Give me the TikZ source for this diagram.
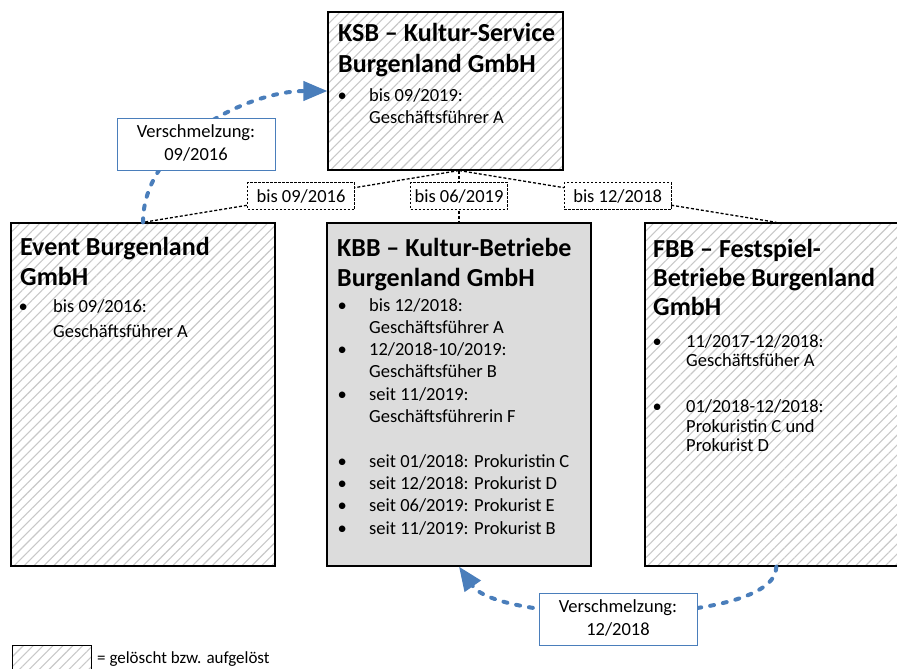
\documentclass[tikz,border=0pt]{standalone}
\usepackage{fontspec}
\setmainfont{Carlito}
\usetikzlibrary{patterns.meta,arrows.meta,calc}
\definecolor{mblue}{RGB}{74,126,187}
\definecolor{kbbgray}{RGB}{220,220,220}
\definecolor{hatchgray}{RGB}{200,200,200}
\newcommand\bl[1]{\llap{\makebox[0pt]{\textbullet}\hspace{#1}}}
\tikzset{
 orgbox/.style={draw=black, line width=1.3pt, minimum width=264pt, minimum height=343pt, inner sep=0pt},
 hatched/.style={pattern={Lines[angle=45,distance=7pt,line width=1.1pt]}, pattern color=hatchgray},
 ttl/.style={anchor=base west, inner sep=0pt},
 lst/.style={anchor=base west, inner sep=0pt},
 orgline/.style={line width=1.3pt, dash pattern=on 3pt off 2pt},
 datebox/.style={draw=black, line width=1pt, dash pattern=on 2.5pt off 1.5pt, fill=white, minimum height=27pt, inner sep=0pt, font=\fontsize{18.5}{22}\selectfont},
 mergebox/.style={draw=mblue, line width=1pt, fill=white, minimum width=158pt, minimum height=52pt, inner sep=0pt, font=\fontsize{18.5}{23}\selectfont},
 merge/.style={draw=mblue, line width=4pt, dash pattern=on 4pt off 9pt, line cap=round, -{Triangle[length=24pt,width=19pt]}},
}
\begin{document}
\begin{tikzpicture}[x=1pt,y=-1pt]
\useasboundingbox (0,0) rectangle (897,669);
\begin{scope}
\clip (0,0) rectangle (897,669);
% boxes
\node[orgbox, hatched, minimum width=235pt, minimum height=158pt] (ksb) at (445.5,91) {};
\node[orgbox, hatched] (ev) at (143,394.5) {};
\node[orgbox, fill=kbbgray] (kbb) at (459,394.5) {};
\node[orgbox, hatched, minimum width=344pt] (fbb) at (817,394.5) {};
\coordinate (fbbtop) at ($(fbb.north west)+(132,0)$);
\coordinate (fbbbot) at ($(fbb.south west)+(132,0)$);
% titles
\node[ttl, font=\bfseries\fontsize{26}{31}\selectfont] (ksbT) at (338,42) {\begin{tabular}[t]{@{}l@{}}KSB – Kultur-Service\\Burgenland GmbH\end{tabular}};
\node[ttl, font=\bfseries\fontsize{26}{30}\selectfont] (evT) at (20,255) {\begin{tabular}[t]{@{}l@{}}Event Burgenland\\GmbH\end{tabular}};
\node[ttl, font=\bfseries\fontsize{26}{30}\selectfont] (kbbT) at (337,256) {\begin{tabular}[t]{@{}l@{}}KBB – Kultur-Betriebe\\Burgenland GmbH\end{tabular}};
\node[ttl, font=\bfseries\fontsize{26}{29}\selectfont] (fbbT) at (653,257) {\begin{tabular}[t]{@{}l@{}}FBB – Festspiel-\\Betriebe Burgenland\\GmbH\end{tabular}};
% lists
\node[lst, font=\fontsize{18.5}{21}\selectfont] (ksbL) at (369,102) {\begin{tabular}[t]{@{}l@{}}\bl{27pt}bis 09/2019:\\Geschäftsführer A\end{tabular}};
\node[lst, font=\fontsize{18.5}{25}\selectfont] (evL) at (53,312) {\begin{tabular}[t]{@{}l@{}}\bl{30pt}bis 09/2016:\\Geschäftsführer A\end{tabular}};
\node[lst, font=\fontsize{18.5}{22.3}\selectfont] (kbbL) at (369,311) {\begin{tabular}[t]{@{}l@{}}\bl{27pt}bis 12/2018:\\Geschäftsführer A\\\bl{27pt}12/2018-10/2019:\\Geschäftsfüher B\\\bl{27pt}seit 11/2019:\\Geschäftsführerin F\\[22.3pt]\bl{27pt}seit 01/2018: Prokuristin C\\\bl{27pt}seit 12/2018: Prokurist D\\\bl{27pt}seit 06/2019: Prokurist E\\\bl{27pt}seit 11/2019: Prokurist B\end{tabular}};
\node[lst, font=\fontsize{18.5}{19.5}\selectfont] (fbbL) at (686,347) {\begin{tabular}[t]{@{}l@{}}\bl{29pt}11/2017-12/2018:\\Geschäftsfüher A\\[26.5pt]\bl{29pt}01/2018-12/2018:\\Prokuristin C und\\Prokurist D\end{tabular}};
% org lines
\coordinate (jn) at (ksb.south -| kbb.north);
\draw[orgline] (jn) -- (ev.north);
\draw[orgline] (jn) -- (kbb.north);
\draw[orgline] (jn) -- (fbbtop);
\node[datebox, minimum width=107pt] (d1) at ($(jn)!0.5!(ev.north)$) {bis 09/2016};
\node[datebox, minimum width=97pt] (d2) at ($(jn)!0.5!(kbb.north)$) {bis 06/2019};
\node[datebox, minimum width=107pt] (d3) at ($(jn)!0.5!(fbbtop)$) {bis 12/2018};
% merge arrows
\draw[merge] (ev.north) to[out=90,in=180,looseness=0.9] (ksb.west);
\draw[merge] (fbbbot) .. controls +(0,60) and (500,625) .. (kbb.south);
\node[mergebox] (m1) at (196,144) {\begin{tabular}{@{}c@{}}Verschmelzung:\\09/2016\end{tabular}};
\node[mergebox] (m2) at (618,619) {\begin{tabular}{@{}c@{}}Verschmelzung:\\12/2018\end{tabular}};
% legend
\node[draw=black, line width=1pt, hatched, minimum width=79pt, minimum height=27pt, inner sep=0pt] (leg) at (51.5,658.5) {};
\node[lst, font=\fontsize{17}{20}\selectfont] (legT) at (97,663) {= gelöscht bzw. aufgelöst};
\end{scope}
\end{tikzpicture}
\end{document}
